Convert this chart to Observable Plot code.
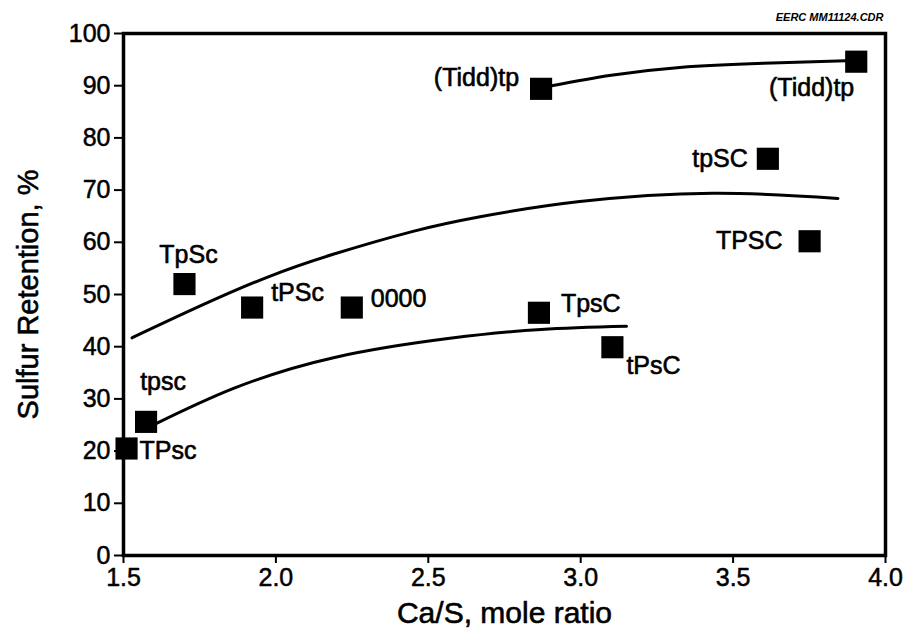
<!DOCTYPE html>
<html>
<head>
<meta charset="utf-8">
<script src="https://cdn.jsdelivr.net/npm/d3@7"></script>
<script src="https://cdn.jsdelivr.net/npm/@observablehq/plot@0.6"></script>
<style>
  html, body { margin: 0; padding: 0; background: #fff; }
  #chart svg { display: block; }
</style>
</head>
<body>
<div id="chart"></div>
<script>
// ---- data ----
const labels    = ["TPsc", "tpsc", "TpSc", "tPSc", "0000", "TpsC", "tPsC", "(Tidd)tp", "(Tidd)tp", "tpSC", "TPSC"];
const caS       = [1.51, 1.574, 1.70, 1.922, 2.249, 2.863, 3.104, 2.870, 3.904, 3.614, 3.751];
const retention = [20.5, 25.6, 52.0, 47.5, 47.5, 46.5, 39.9, 89.4, 94.6, 76.0, 60.2];

const upperX  = [2.905, 3.10, 3.325, 3.60, 3.871];
const upperY  = [90.0, 92.0, 93.5, 94.3, 94.8];
const middleX = [1.528, 1.752, 1.971, 2.188, 2.45, 2.67, 2.997, 3.433, 3.844];
const middleY = [41.7, 47.8, 53.3, 57.7, 62.1, 64.9, 67.8, 69.4, 68.4];
const lowerX  = [1.605, 1.861, 2.189, 2.571, 2.87, 3.15];
const lowerY  = [25.2, 32.0, 37.9, 41.6, 43.3, 43.9];

const xTicks = [1.5, 2.0, 2.5, 3.0, 3.5, 4.0];
const yTicks = [0, 10, 20, 30, 40, 50, 60, 70, 80, 90, 100];

const xTitle = "Ca/S, mole ratio";
const yTitle = "Sulfur Retention, %";
const fileTag = "EERC MM11124.CDR";

// ---- build tables ----
const points = labels.map((label, i) => ({label, x: caS[i], y: retention[i], i}));
const curve = (xs, ys, name) => xs.map((x, i) => ({x, y: ys[i], name}));
const curves = [
  ...curve(upperX, upperY, "upper"),
  ...curve(middleX, middleY, "middle"),
  ...curve(lowerX, lowerY, "lower")
];

// label placement (layout only, keyed by point index)
const place = [
  {anchor: "start",  dx: 13,  dy: 3},
  {anchor: "middle", dx: 17,  dy: -40},
  {anchor: "middle", dx: 4,   dy: -29},
  {anchor: "start",  dx: 19,  dy: -15},
  {anchor: "start",  dx: 19,  dy: -9},
  {anchor: "start",  dx: 22,  dy: -9},
  {anchor: "start",  dx: 14,  dy: 19},
  {anchor: "end",    dx: -22, dy: -11},
  {anchor: "end",    dx: -2,  dy: 26},
  {anchor: "end",    dx: -20, dy: 0},
  {anchor: "end",    dx: -27, dy: 0}
];

const font = "'Liberation Sans', Arial, Helvetica, sans-serif";
const ink = {fill: "black", stroke: "black", strokeWidth: 0.6};

const labelMarks = points.map(p => Plot.text([p], {
  x: "x", y: "y", text: "label",
  textAnchor: place[p.i].anchor, dx: place[p.i].dx, dy: place[p.i].dy,
  fontSize: 25, ...ink
}));

const chart = Plot.plot({
  width: 903,
  height: 636,
  marginLeft: 123,
  marginRight: 18,
  marginTop: 33,
  marginBottom: 81,
  style: {fontFamily: font, color: "black", background: "white"},
  x: {domain: [1.5, 4.0]},
  y: {domain: [0, 100]},
  marks: [
    Plot.axisX({ticks: xTicks, tickFormat: d3.format(".1f"), tickSize: 8, tickPadding: 5,
                fontSize: 25, strokeWidth: 2, label: null, textStroke: "black", textStrokeWidth: 0.5}),
    Plot.axisY({ticks: yTicks, tickSize: 9, tickPadding: 4,
                fontSize: 25, strokeWidth: 2, label: null, textStroke: "black", textStrokeWidth: 0.5}),
    Plot.frame({stroke: "black", strokeWidth: 3.5}),
    Plot.line(curves, {x: "x", y: "y", z: "name", curve: "natural", stroke: "black", strokeWidth: 3}),
    Plot.dot(points, {x: "x", y: "y", symbol: "square", r: 12.5, fill: "black", stroke: "none"}),
    ...labelMarks,
    Plot.text([xTitle], {frameAnchor: "bottom", dy: 67, fontSize: 30, ...ink}),
    Plot.text([yTitle], {frameAnchor: "left", textAnchor: "middle", dx: -95, rotate: -90, fontSize: 29, ...ink}),
    Plot.text([fileTag], {frameAnchor: "top-right", dx: -2, dy: -20, fontSize: 11,
                          fontWeight: "bold", fontStyle: "italic", fill: "black"})
  ]
});
document.getElementById("chart").appendChild(chart);
</script>
</body>
</html>
